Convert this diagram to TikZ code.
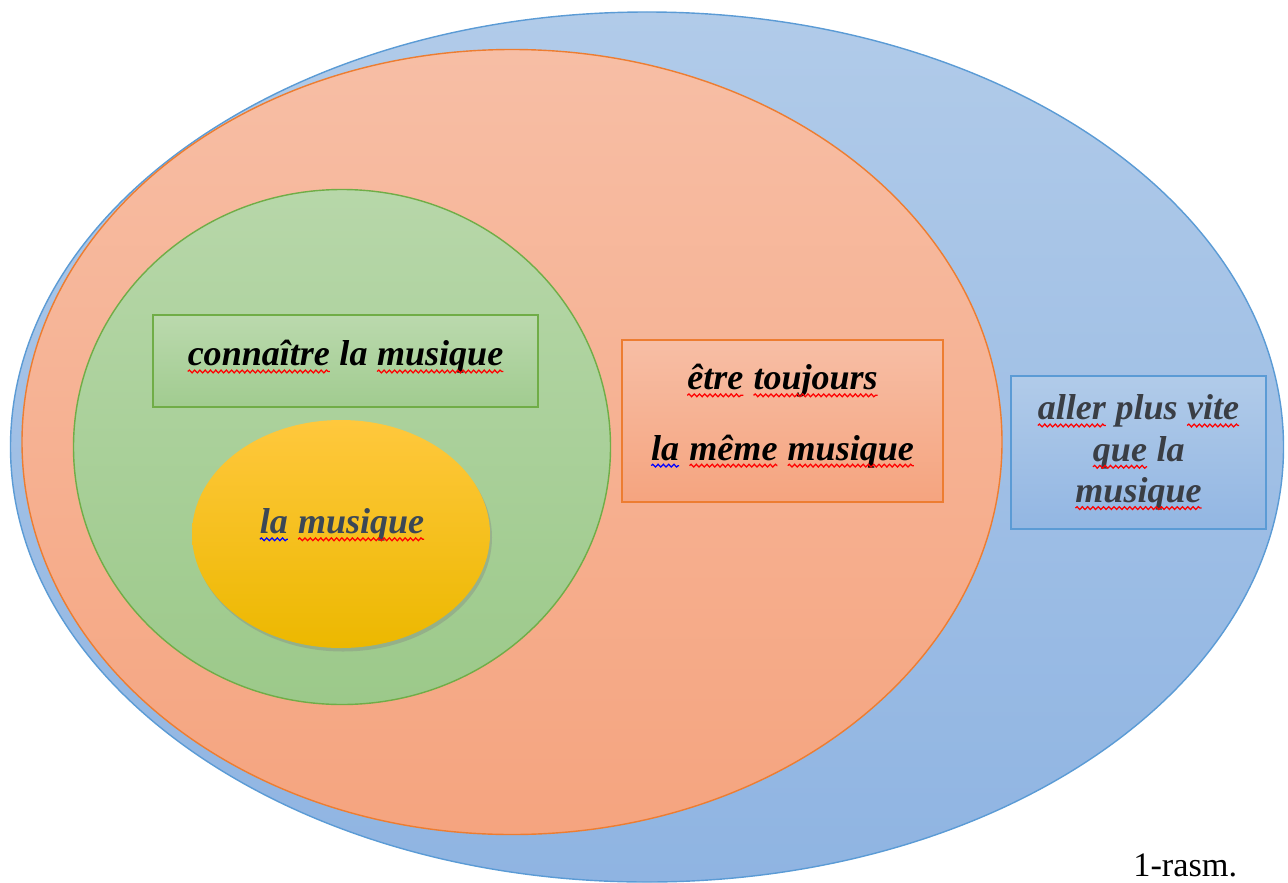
\documentclass[tikz,border=0pt]{standalone}
\usepackage{fontspec}
\setmainfont{Liberation Serif}
\usetikzlibrary{shapes.geometric,shadows,decorations.pathmorphing}

\definecolor{blueline}{HTML}{5B9BD5}
\definecolor{bluetop}{HTML}{B1CBE9}
\definecolor{bluebot}{HTML}{8FB4E2}
\definecolor{orangeline}{HTML}{ED7D31}
\definecolor{orangetop}{HTML}{F7BEA5}
\definecolor{orangebot}{HTML}{F5A47F}
\definecolor{greenline}{HTML}{70AD47}
\definecolor{greentop}{HTML}{B7D7A9}
\definecolor{greenbot}{HTML}{9CC98A}
\definecolor{goldtop}{HTML}{FFC83D}
\definecolor{goldbot}{HTML}{ECB800}
\definecolor{slatetext}{HTML}{3B4756}
\definecolor{greytext}{HTML}{3A3E45}

\newcommand\wavy[2]{\tikz[baseline=(w.base)]{\node[inner sep=0pt, outer sep=0pt] (w) {#2};
    \draw[#1, line width=0.7pt, decorate, decoration={snake, amplitude=0.8pt, segment length=3pt}]
    ([yshift=-3.2pt]w.base west) -- ([yshift=-3.2pt]w.base east);}}
\newcommand\redwave[1]{\wavy{red}{#1}}
\newcommand\bluewave[1]{\wavy{blue}{#1}}

\begin{document}
\begin{tikzpicture}[every node/.append style={inner sep=0pt},
        word/.style={font=\fontsize{20.5}{23.5}\selectfont\bfseries\itshape, align=center}]
      \tikzstyle{blob} = [ellipse, line width=0.8pt]
      \tikzstyle{box} = [rectangle, line width=0.8pt]
      \useasboundingbox (0,0) rectangle (25.76,-17.64);
      \node (aller) [blob, draw=blueline, top color=bluetop, bottom color=bluebot,
        minimum width=25.46cm, minimum height=17.4cm] at (12.94,-8.94) {};
      \node (etre) [blob, draw=orangeline, top color=orangetop, bottom color=orangebot,
        minimum width=19.6cm, minimum height=15.7cm] at (10.24,-8.84) {};
      \node (connaitre) [blob, draw=greenline, top color=greentop, bottom color=greenbot,
        minimum width=10.74cm, minimum height=10.3cm] at (6.84,-8.94) {};
      \node (musique) [blob, top color=goldtop, bottom color=goldbot,
        drop shadow={opacity=0.35, shadow xshift=0.04cm, shadow yshift=-0.07cm},
        minimum width=5.96cm, minimum height=4.56cm] at (6.82,-10.68) {};
      \node (connaitrebox) [box, draw=greenline, top color=greentop!95!white, bottom color=greenbot!95!white,
        minimum width=7.7cm, minimum height=1.84cm] at (6.91,-7.22) {};
      \node (etrebox) [box, draw=orangeline, top color=orangetop, bottom color=orangebot,
        minimum width=6.42cm, minimum height=3.24cm] at (15.65,-8.42) {};
      \node (allerbox) [box, draw=blueline, top color=bluetop, bottom color=bluebot!90!bluetop,
        minimum width=5.1cm, minimum height=3.06cm] at (22.77,-9.05) {};
      \node (musiquetext) [word, text=slatetext] at (6.84,-10.5)
        {\bluewave{la} \redwave{musique}};
      \node (connaitretext) [word] at ([yshift=0.08cm]connaitrebox)
        {\redwave{connaître} la \redwave{musique}};
      \node (etretext) [word, font=\fontsize{20.5}{40}\selectfont\bfseries\itshape] at ([yshift=0.1cm]etrebox)
        {\redwave{être} \redwave{toujours}\\\bluewave{la} \redwave{même} \redwave{musique}};
      \node (allertext) [word, text=greytext] at (allerbox)
        {\redwave{aller} plus \redwave{vite}\\\redwave{que} la\\\redwave{musique}};
      \node (rasm) [anchor=base west, font=\fontsize{19.5}{22}\selectfont] at (22.66,-17.52) {1-rasm.};
    \end{tikzpicture}
\end{document}
